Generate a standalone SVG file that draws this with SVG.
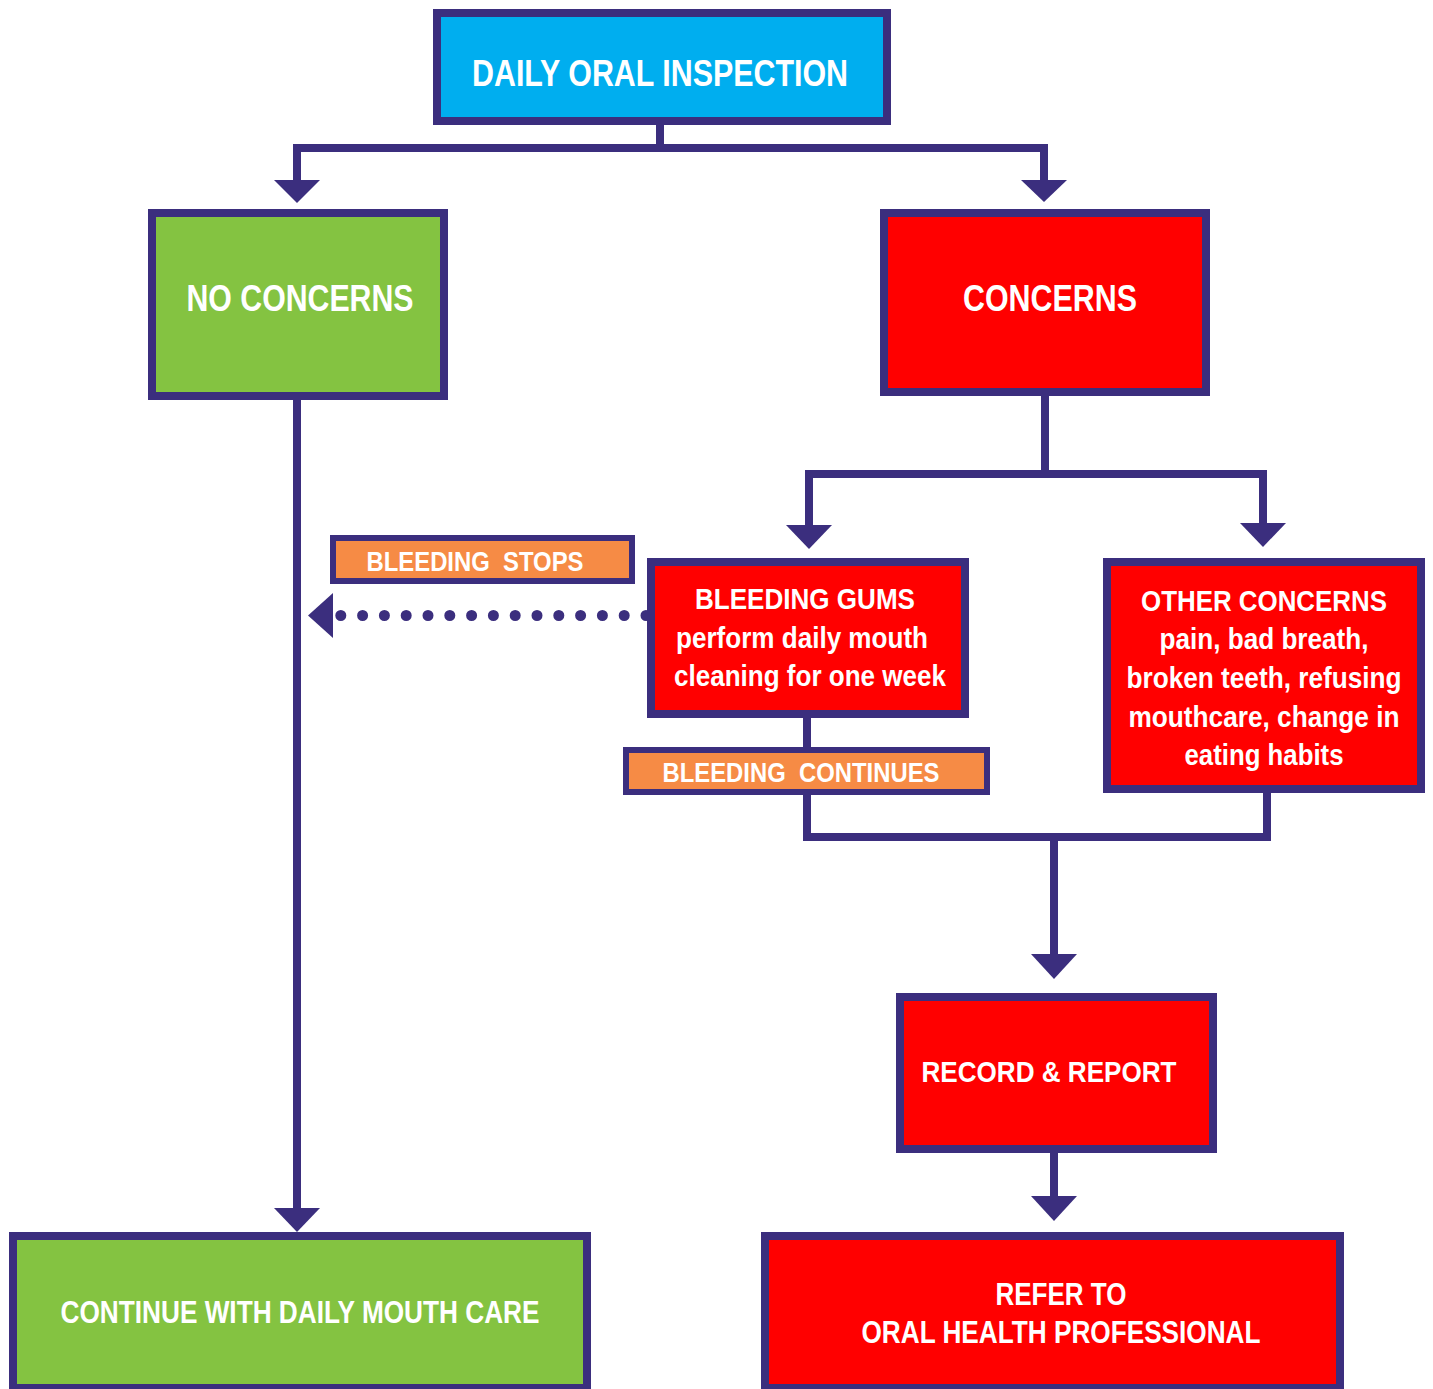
<svg xmlns="http://www.w3.org/2000/svg" width="1433" height="1389" viewBox="0 0 1433 1389">
<style>
.box{stroke:#3b2e7e;stroke-width:8}
.lbl{stroke:#3b2e7e;stroke-width:6;fill:#f68b45}
.blue{fill:#00aeef}
.green{fill:#84c341}
.red{fill:#ff0000}
.t{font-family:"Liberation Sans",Arial,sans-serif;font-weight:bold;fill:#ffffff;text-anchor:middle}
.line{fill:none;stroke:#3b2e7e;stroke-width:8;stroke-linejoin:miter;stroke-linecap:butt}
.dots{fill:none;stroke:#3b2e7e;stroke-width:11;stroke-linecap:round;stroke-dasharray:0 21.8}
.head{fill:#3b2e7e}
</style>
<rect width="1433" height="1389" fill="#ffffff"/>
<g id="connectors">
<path class="line" d="M660 125 V148 M297 182 V148 H1044 V182"/>
<path class="head" d="M274 180 H320 L297 203 Z"/>
<path class="head" d="M1021 180 H1067 L1044 202 Z"/>
<path class="line" d="M1045 396 V474 M809 527 V474 H1263 V525"/>
<path class="head" d="M786 525 H832 L809 549 Z"/>
<path class="head" d="M1240 523 H1286 L1263 547 Z"/>
<path class="line" d="M297 400 V1210"/>
<path class="head" d="M274 1208 H320 L297 1232 Z"/>
<path class="line" d="M807 718 V752 M807 793 V837 H1267 V793 M1054 837 V956"/>
<path class="head" d="M1031 954 H1077 L1054 979 Z"/>
<path class="line" d="M1054 1152 V1198"/>
<path class="head" d="M1031 1196 H1077 L1054 1221 Z"/>
<path class="dots" d="M646 615.5 H340"/>
<path class="head" d="M333 593 V638 L308 615.5 Z"/>
</g>
<g id="daily-oral-inspection">
<rect class="box blue" x="437" y="13" width="450" height="108"/>
<text class="t" x="660" y="86" font-size="37" textLength="376" lengthAdjust="spacingAndGlyphs">DAILY ORAL INSPECTION</text>
</g>
<g id="no-concerns">
<rect class="box green" x="152" y="213" width="292" height="183"/>
<text class="t" x="300" y="311" font-size="37" textLength="227" lengthAdjust="spacingAndGlyphs">NO CONCERNS</text>
</g>
<g id="concerns">
<rect class="box red" x="884" y="213" width="322" height="179"/>
<text class="t" x="1050" y="311" font-size="37" textLength="174" lengthAdjust="spacingAndGlyphs">CONCERNS</text>
</g>
<g id="bleeding-stops">
<rect class="lbl" x="333" y="538" width="299" height="43"/>
<text class="t" x="475" y="571" font-size="28" textLength="217" lengthAdjust="spacingAndGlyphs" xml:space="preserve">BLEEDING  STOPS</text>
</g>
<g id="bleeding-gums">
<rect class="box red" x="651" y="562" width="314" height="152"/>
<text class="t" x="805" y="609" font-size="30" textLength="220" lengthAdjust="spacingAndGlyphs">BLEEDING GUMS</text>
<text class="t" x="802" y="648" font-size="30" textLength="252" lengthAdjust="spacingAndGlyphs">perform daily mouth</text>
<text class="t" x="810" y="686" font-size="30" textLength="272" lengthAdjust="spacingAndGlyphs">cleaning for one week</text>
</g>
<g id="bleeding-continues">
<rect class="lbl" x="626" y="750" width="361" height="42"/>
<text class="t" x="801" y="782" font-size="28" textLength="277" lengthAdjust="spacingAndGlyphs" xml:space="preserve">BLEEDING  CONTINUES</text>
</g>
<g id="other-concerns">
<rect class="box red" x="1107" y="562" width="314" height="227"/>
<text class="t" x="1264" y="611" font-size="29" textLength="246" lengthAdjust="spacingAndGlyphs">OTHER CONCERNS</text>
<text class="t" x="1264" y="649" font-size="29" textLength="209" lengthAdjust="spacingAndGlyphs">pain, bad breath,</text>
<text class="t" x="1264" y="688" font-size="29" textLength="275" lengthAdjust="spacingAndGlyphs">broken teeth, refusing</text>
<text class="t" x="1264" y="727" font-size="29" textLength="271" lengthAdjust="spacingAndGlyphs">mouthcare, change in</text>
<text class="t" x="1264" y="765" font-size="29" textLength="159" lengthAdjust="spacingAndGlyphs">eating habits</text>
</g>
<g id="record-report">
<rect class="box red" x="900" y="997" width="313" height="152"/>
<text class="t" x="1049" y="1082" font-size="30" textLength="255" lengthAdjust="spacingAndGlyphs">RECORD &amp; REPORT</text>
</g>
<g id="continue-daily-care">
<rect class="box green" x="13" y="1236" width="574" height="152"/>
<text class="t" x="300" y="1323" font-size="32" textLength="479" lengthAdjust="spacingAndGlyphs">CONTINUE WITH DAILY MOUTH CARE</text>
</g>
<g id="refer-oral-health">
<rect class="box red" x="765" y="1236" width="575" height="152"/>
<text class="t" x="1061" y="1305" font-size="31" textLength="131" lengthAdjust="spacingAndGlyphs">REFER TO</text>
<text class="t" x="1061" y="1343" font-size="31" textLength="399" lengthAdjust="spacingAndGlyphs">ORAL HEALTH PROFESSIONAL</text>
</g>
</svg>
